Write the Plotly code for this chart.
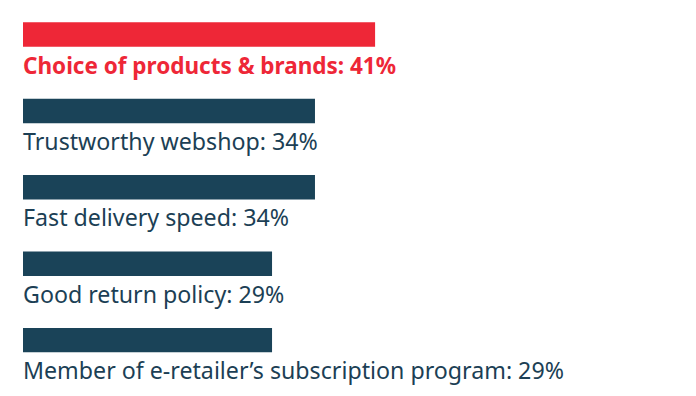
import plotly.graph_objects as go

labels = ["Choice of products & brands", "Trustworthy webshop", "Fast delivery speed",
          "Good return policy", "Member of e-retailer\u2019s subscription program"]
values = [41, 34, 34, 29, 29]
colors = ["#EE2737", "#1A4358", "#1A4358", "#1A4358", "#1A4358"]
text_colors = ["#EE2737", "#1C3F55", "#1C3F55", "#1C3F55", "#1C3F55"]

pos = list(range(len(labels)))

fig = go.Figure(go.Bar(
    x=values, y=pos, orientation="h",
    marker=dict(color=colors, line=dict(width=0)),
    width=0.32, hoverinfo="skip",
))

for i, (lab, v) in enumerate(zip(labels, values)):
    fig.add_annotation(
        x=0, y=i + (0.40 if i == 0 else 0.39), xref="x", yref="y",
        text=f"{lab}: {v}%", showarrow=False,
        xanchor="left", yanchor="middle", borderpad=0,
        font=dict(family="Noto Sans", size=22.5 if i == 0 else 23.2,
                  color=text_colors[i],
                  weight="bold" if i == 0 else "normal"),
        xshift=-1,
    )

fig.update_layout(
    width=696, height=396,
    margin=dict(l=15, r=0, t=0, b=0),
    paper_bgcolor="white", plot_bgcolor="white",
    xaxis=dict(range=[0, 79.3], visible=False, fixedrange=True),
    yaxis=dict(range=[4.836, -0.347], visible=False, fixedrange=True),
    showlegend=False,
)

fig.write_html("out.html")
